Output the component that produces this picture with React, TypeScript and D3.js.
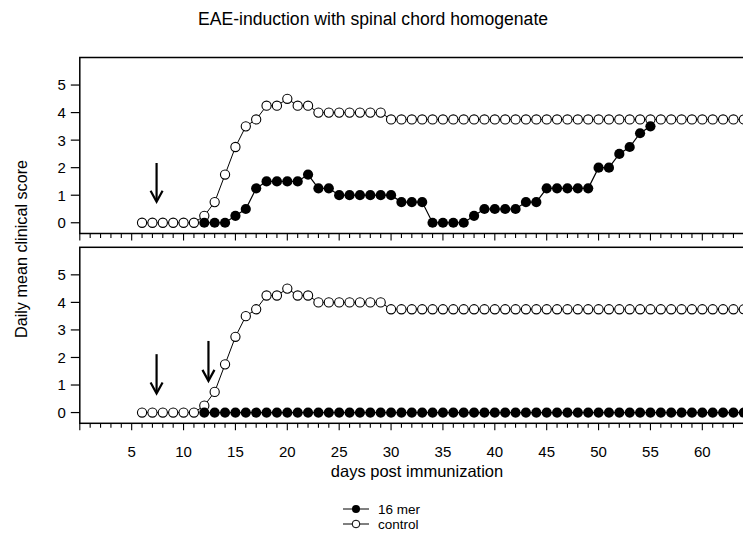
import React from "react";
import * as d3 from "d3";

const title = "EAE-induction with spinal chord homogenate";
const xLabel = "days post immunization";
const yLabel = "Daily mean clinical score";

const controlDays = d3.range(6, 65);
const controlScores = [
  0, 0, 0, 0, 0, 0, 0.25, 0.75, 1.75, 2.75, 3.5, 3.75, 4.25, 4.25, 4.5, 4.25, 4.25,
  4, 4, 4, 4, 4, 4, 4, 3.75, 3.75, 3.75, 3.75, 3.75, 3.75, 3.75, 3.75, 3.75, 3.75,
  3.75, 3.75, 3.75, 3.75, 3.75, 3.75, 3.75, 3.75, 3.75, 3.75, 3.75, 3.75, 3.75, 3.75,
  3.75, 3.75, 3.75, 3.75, 3.75, 3.75, 3.75, 3.75, 3.75, 3.75, 3.75,
];

const mer16TopDays = d3.range(12, 56);
const mer16TopScores = [
  0, 0, 0, 0.25, 0.5, 1.25, 1.5, 1.5, 1.5, 1.5, 1.75, 1.25, 1.25, 1, 1, 1, 1, 1, 1,
  0.75, 0.75, 0.75, 0, 0, 0, 0, 0.25, 0.5, 0.5, 0.5, 0.5, 0.75, 0.75, 1.25, 1.25,
  1.25, 1.25, 1.25, 2, 2, 2.5, 2.75, 3.25, 3.5,
];

const mer16BottomDays = d3.range(12, 65);
const mer16BottomScores = mer16BottomDays.map(() => 0);

// arrows: [day, fromScore, toScore]
const arrowsTop: [number, number, number][] = [[7.4, 2.17, 0.76]];
const arrowsBottom: [number, number, number][] = [
  [7.4, 2.12, 0.69],
  [12.4, 2.6, 1.15],
];

const yTicks = [0, 1, 2, 3, 4, 5];
const xLabelTicks = [5, 10, 15, 20, 25, 30, 35, 40, 45, 50, 55, 60];
const xMinorTicks = d3.range(0, 66);
const legendLabels = ["16 mer", "control"];

const FONT = "'Liberation Sans', Arial, Helvetica, sans-serif";

const x = d3.scaleLinear().domain([0, 65]).range([79.8, 754.2]);

type PanelProps = {
  top: number;
  bottom: number;
  mDays: number[];
  mScores: number[];
  arrows: [number, number, number][];
  showLabels: boolean;
};

function Arrow({ x0, y0, y1 }: { x0: number; y0: number; y1: number }) {
  return (
    <g stroke="#000" strokeWidth={2.2} fill="none" strokeLinecap="butt">
      <line x1={x0} y1={y0} x2={x0} y2={y1 - 1} />
      <polyline points={`${x0 - 6},${y1 - 11} ${x0},${y1} ${x0 + 6},${y1 - 11}`} />
    </g>
  );
}

function Panel({ top, bottom, mDays, mScores, arrows, showLabels }: PanelProps) {
  const y = d3.scaleLinear().domain([-0.39, 6.0]).range([bottom, top]);
  const line = d3
    .line<[number, number]>()
    .x((d) => x(d[0]))
    .y((d) => y(d[1]));
  const ctrlPts: [number, number][] = controlDays.map((d, i) => [d, controlScores[i]]);
  const merPts: [number, number][] = mDays.map((d, i) => [d, mScores[i]]);
  return (
    <g>
      <path d={line(ctrlPts) || ""} fill="none" stroke="#000" strokeWidth={1} />
      <path d={line(merPts) || ""} fill="none" stroke="#000" strokeWidth={1.2} />
      {ctrlPts.map((p, i) => (
        <circle key={"c" + i} cx={x(p[0])} cy={y(p[1])} r={4.6} fill="#fff" stroke="#000" strokeWidth={1.1} />
      ))}
      {merPts.map((p, i) => (
        <circle key={"m" + i} cx={x(p[0])} cy={y(p[1])} r={5.1} fill="#000" />
      ))}
      {arrows.map((a, i) => (
        <Arrow key={"a" + i} x0={x(a[0])} y0={y(a[1])} y1={y(a[2])} />
      ))}
      <rect x={x(0)} y={top} width={x(65) - x(0)} height={bottom - top} fill="none" stroke="#000" strokeWidth={1.5} />
      {yTicks.map((t) => (
        <g key={"y" + t}>
          <line x1={x(0) - 9} x2={x(0)} y1={y(t)} y2={y(t)} stroke="#000" strokeWidth={1.2} />
          <text x={x(0) - 14} y={y(t)} dy="0.36em" textAnchor="end" fontSize={15} fontFamily={FONT}>
            {t}
          </text>
        </g>
      ))}
      {xMinorTicks.map((t) => (
        <line
          key={"xt" + t}
          x1={x(t)}
          x2={x(t)}
          y1={bottom}
          y2={bottom + (t % 5 === 0 ? 7 : 4.5)}
          stroke="#000"
          strokeWidth={1.1}
        />
      ))}
      {showLabels &&
        xLabelTicks.map((t) => (
          <text key={"xl" + t} x={x(t)} y={bottom + 33.5} textAnchor="middle" fontSize={15} fontFamily={FONT}>
            {t}
          </text>
        ))}
    </g>
  );
}

export default function App() {
  return (
    <svg width={743} height={542} style={{ position: "absolute", left: 0, top: 0 }}>
      <rect width={743} height={542} fill="#fff" />
      <text x={373} y={24.5} textAnchor="middle" fontSize={17.6} fontFamily={FONT}>
        {title}
      </text>
      <Panel top={57.5} bottom={233.5} mDays={mer16TopDays} mScores={mer16TopScores} arrows={arrowsTop} showLabels={false} />
      <Panel top={247.3} bottom={423.3} mDays={mer16BottomDays} mScores={mer16BottomScores} arrows={arrowsBottom} showLabels={true} />
      <text x={417} y={477} textAnchor="middle" fontSize={16.5} fontFamily={FONT}>
        {xLabel}
      </text>
      <text
        transform={`translate(26.5,249) rotate(-90)`}
        textAnchor="middle"
        fontSize={16.2}
        fontFamily={FONT}
      >
        {yLabel}
      </text>
      {legendLabels.map((lab, i) => {
        const ly = 509 + i * 15;
        return (
          <g key={lab}>
            <line x1={343} x2={369} y1={ly} y2={ly} stroke="#000" strokeWidth={1} />
            {i === 0 ? (
              <circle cx={356} cy={ly} r={4} fill="#000" />
            ) : (
              <circle cx={356} cy={ly} r={3.8} fill="#fff" stroke="#000" strokeWidth={1} />
            )}
            <text x={378} y={ly} dy="0.36em" fontSize={13.5} fontFamily={FONT}>
              {lab}
            </text>
          </g>
        );
      })}
    </svg>
  );
}
